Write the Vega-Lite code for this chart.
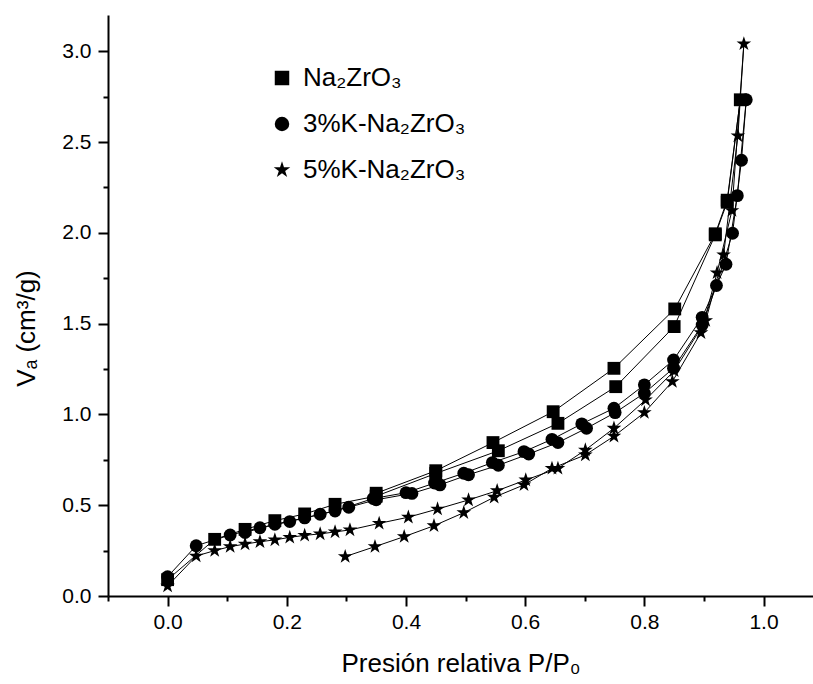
{
  "$schema": "https://vega.github.io/schema/vega-lite/v6.json",
  "width": 705,
  "height": 581,
  "autosize": {"type": "none"},
  "padding": {"left": 108, "top": 15, "right": 0, "bottom": 88},
  "background": "white",
  "config": {
    "view": {"stroke": null},
    "font": "Liberation Sans",
    "axis": {
      "grid": false,
      "domainColor": "black",
      "domainWidth": 2,
      "tickColor": "black",
      "tickWidth": 2,
      "tickOpacity": 1,
      "labelFont": "Liberation Sans",
      "labelFontSize": 21,
      "labelColor": "black",
      "titleFont": "Liberation Sans",
      "titleFontSize": 26,
      "titleFontWeight": "normal",
      "titleColor": "black"
    },
    "legend": {
      "labelFont": "Liberation Sans",
      "labelFontSize": 26,
      "labelColor": "black",
      "labelLimit": 400
    }
  },
  "data": {
    "values": [
      {"s": "Na₂ZrO₃", "o": 1, "x": 0, "y": 0.09},
      {"s": "Na₂ZrO₃", "o": 2, "x": 0.079, "y": 0.312},
      {"s": "Na₂ZrO₃", "o": 3, "x": 0.13, "y": 0.367},
      {"s": "Na₂ZrO₃", "o": 4, "x": 0.18, "y": 0.415},
      {"s": "Na₂ZrO₃", "o": 5, "x": 0.23, "y": 0.452},
      {"s": "Na₂ZrO₃", "o": 6, "x": 0.281, "y": 0.505},
      {"s": "Na₂ZrO₃", "o": 7, "x": 0.35, "y": 0.55},
      {"s": "Na₂ZrO₃", "o": 8, "x": 0.45, "y": 0.675},
      {"s": "Na₂ZrO₃", "o": 9, "x": 0.555, "y": 0.8},
      {"s": "Na₂ZrO₃", "o": 10, "x": 0.655, "y": 0.951},
      {"s": "Na₂ZrO₃", "o": 11, "x": 0.752, "y": 1.153},
      {"s": "Na₂ZrO₃", "o": 12, "x": 0.85, "y": 1.484},
      {"s": "Na₂ZrO₃", "o": 13, "x": 0.919, "y": 1.989},
      {"s": "Na₂ZrO₃", "o": 14, "x": 0.939, "y": 2.169},
      {"s": "Na₂ZrO₃", "o": 15, "x": 0.961, "y": 2.733},
      {"s": "Na₂ZrO₃", "o": 16, "x": 0.939, "y": 2.18},
      {"s": "Na₂ZrO₃", "o": 17, "x": 0.919, "y": 1.995},
      {"s": "Na₂ZrO₃", "o": 18, "x": 0.851, "y": 1.581},
      {"s": "Na₂ZrO₃", "o": 19, "x": 0.749, "y": 1.254},
      {"s": "Na₂ZrO₃", "o": 20, "x": 0.647, "y": 1.015},
      {"s": "Na₂ZrO₃", "o": 21, "x": 0.546, "y": 0.845},
      {"s": "Na₂ZrO₃", "o": 22, "x": 0.45, "y": 0.69},
      {"s": "Na₂ZrO₃", "o": 23, "x": 0.35, "y": 0.566},
      {"s": "3%K-Na₂ZrO₃", "o": 1, "x": 0, "y": 0.106},
      {"s": "3%K-Na₂ZrO₃", "o": 2, "x": 0.048, "y": 0.277},
      {"s": "3%K-Na₂ZrO₃", "o": 3, "x": 0.105, "y": 0.336},
      {"s": "3%K-Na₂ZrO₃", "o": 4, "x": 0.155, "y": 0.376},
      {"s": "3%K-Na₂ZrO₃", "o": 5, "x": 0.205, "y": 0.41},
      {"s": "3%K-Na₂ZrO₃", "o": 6, "x": 0.256, "y": 0.45},
      {"s": "3%K-Na₂ZrO₃", "o": 7, "x": 0.304, "y": 0.489},
      {"s": "3%K-Na₂ZrO₃", "o": 8, "x": 0.35, "y": 0.53},
      {"s": "3%K-Na₂ZrO₃", "o": 9, "x": 0.41, "y": 0.565},
      {"s": "3%K-Na₂ZrO₃", "o": 10, "x": 0.457, "y": 0.612},
      {"s": "3%K-Na₂ZrO₃", "o": 11, "x": 0.505, "y": 0.668},
      {"s": "3%K-Na₂ZrO₃", "o": 12, "x": 0.555, "y": 0.72},
      {"s": "3%K-Na₂ZrO₃", "o": 13, "x": 0.606, "y": 0.782},
      {"s": "3%K-Na₂ZrO₃", "o": 14, "x": 0.655, "y": 0.845},
      {"s": "3%K-Na₂ZrO₃", "o": 15, "x": 0.703, "y": 0.924},
      {"s": "3%K-Na₂ZrO₃", "o": 16, "x": 0.751, "y": 1.01},
      {"s": "3%K-Na₂ZrO₃", "o": 17, "x": 0.8, "y": 1.117},
      {"s": "3%K-Na₂ZrO₃", "o": 18, "x": 0.849, "y": 1.255},
      {"s": "3%K-Na₂ZrO₃", "o": 19, "x": 0.897, "y": 1.493},
      {"s": "3%K-Na₂ZrO₃", "o": 20, "x": 0.921, "y": 1.71},
      {"s": "3%K-Na₂ZrO₃", "o": 21, "x": 0.948, "y": 1.998},
      {"s": "3%K-Na₂ZrO₃", "o": 22, "x": 0.963, "y": 2.4},
      {"s": "3%K-Na₂ZrO₃", "o": 23, "x": 0.971, "y": 2.733},
      {"s": "3%K-Na₂ZrO₃", "o": 24, "x": 0.956, "y": 2.205},
      {"s": "3%K-Na₂ZrO₃", "o": 25, "x": 0.937, "y": 1.827},
      {"s": "3%K-Na₂ZrO₃", "o": 26, "x": 0.897, "y": 1.535},
      {"s": "3%K-Na₂ZrO₃", "o": 27, "x": 0.849, "y": 1.3},
      {"s": "3%K-Na₂ZrO₃", "o": 28, "x": 0.8, "y": 1.163},
      {"s": "3%K-Na₂ZrO₃", "o": 29, "x": 0.749, "y": 1.034},
      {"s": "3%K-Na₂ZrO₃", "o": 30, "x": 0.695, "y": 0.948},
      {"s": "3%K-Na₂ZrO₃", "o": 31, "x": 0.645, "y": 0.863},
      {"s": "3%K-Na₂ZrO₃", "o": 32, "x": 0.598, "y": 0.795},
      {"s": "3%K-Na₂ZrO₃", "o": 33, "x": 0.545, "y": 0.735},
      {"s": "3%K-Na₂ZrO₃", "o": 34, "x": 0.497, "y": 0.676},
      {"s": "3%K-Na₂ZrO₃", "o": 35, "x": 0.448, "y": 0.622},
      {"s": "3%K-Na₂ZrO₃", "o": 36, "x": 0.4, "y": 0.569},
      {"s": "3%K-Na₂ZrO₃", "o": 37, "x": 0.345, "y": 0.537},
      {"s": "3%K-Na₂ZrO₃", "o": 38, "x": 0.281, "y": 0.468},
      {"s": "3%K-Na₂ZrO₃", "o": 39, "x": 0.23, "y": 0.43},
      {"s": "3%K-Na₂ZrO₃", "o": 40, "x": 0.18, "y": 0.395},
      {"s": "3%K-Na₂ZrO₃", "o": 41, "x": 0.13, "y": 0.35},
      {"s": "5%K-Na₂ZrO₃", "o": 1, "x": 0, "y": 0.055},
      {"s": "5%K-Na₂ZrO₃", "o": 2, "x": 0.048, "y": 0.22},
      {"s": "5%K-Na₂ZrO₃", "o": 3, "x": 0.079, "y": 0.25},
      {"s": "5%K-Na₂ZrO₃", "o": 4, "x": 0.105, "y": 0.272},
      {"s": "5%K-Na₂ZrO₃", "o": 5, "x": 0.13, "y": 0.286},
      {"s": "5%K-Na₂ZrO₃", "o": 6, "x": 0.155, "y": 0.299},
      {"s": "5%K-Na₂ZrO₃", "o": 7, "x": 0.18, "y": 0.309},
      {"s": "5%K-Na₂ZrO₃", "o": 8, "x": 0.205, "y": 0.323},
      {"s": "5%K-Na₂ZrO₃", "o": 9, "x": 0.23, "y": 0.334},
      {"s": "5%K-Na₂ZrO₃", "o": 10, "x": 0.256, "y": 0.342},
      {"s": "5%K-Na₂ZrO₃", "o": 11, "x": 0.281, "y": 0.353},
      {"s": "5%K-Na₂ZrO₃", "o": 12, "x": 0.306, "y": 0.364},
      {"s": "5%K-Na₂ZrO₃", "o": 13, "x": 0.355, "y": 0.4},
      {"s": "5%K-Na₂ZrO₃", "o": 14, "x": 0.404, "y": 0.434},
      {"s": "5%K-Na₂ZrO₃", "o": 15, "x": 0.453, "y": 0.479},
      {"s": "5%K-Na₂ZrO₃", "o": 16, "x": 0.505, "y": 0.529},
      {"s": "5%K-Na₂ZrO₃", "o": 17, "x": 0.553, "y": 0.58},
      {"s": "5%K-Na₂ZrO₃", "o": 18, "x": 0.601, "y": 0.639},
      {"s": "5%K-Na₂ZrO₃", "o": 19, "x": 0.655, "y": 0.703},
      {"s": "5%K-Na₂ZrO₃", "o": 20, "x": 0.701, "y": 0.804},
      {"s": "5%K-Na₂ZrO₃", "o": 21, "x": 0.749, "y": 0.924},
      {"s": "5%K-Na₂ZrO₃", "o": 22, "x": 0.802, "y": 1.08},
      {"s": "5%K-Na₂ZrO₃", "o": 23, "x": 0.85, "y": 1.24},
      {"s": "5%K-Na₂ZrO₃", "o": 24, "x": 0.903, "y": 1.517},
      {"s": "5%K-Na₂ZrO₃", "o": 25, "x": 0.933, "y": 1.879},
      {"s": "5%K-Na₂ZrO₃", "o": 26, "x": 0.957, "y": 2.534},
      {"s": "5%K-Na₂ZrO₃", "o": 27, "x": 0.967, "y": 3.041},
      {"s": "5%K-Na₂ZrO₃", "o": 28, "x": 0.947, "y": 2.123},
      {"s": "5%K-Na₂ZrO₃", "o": 29, "x": 0.922, "y": 1.78},
      {"s": "5%K-Na₂ZrO₃", "o": 30, "x": 0.895, "y": 1.45},
      {"s": "5%K-Na₂ZrO₃", "o": 31, "x": 0.847, "y": 1.181},
      {"s": "5%K-Na₂ZrO₃", "o": 32, "x": 0.8, "y": 1.01},
      {"s": "5%K-Na₂ZrO₃", "o": 33, "x": 0.749, "y": 0.88},
      {"s": "5%K-Na₂ZrO₃", "o": 34, "x": 0.701, "y": 0.777},
      {"s": "5%K-Na₂ZrO₃", "o": 35, "x": 0.645, "y": 0.703},
      {"s": "5%K-Na₂ZrO₃", "o": 36, "x": 0.598, "y": 0.612},
      {"s": "5%K-Na₂ZrO₃", "o": 37, "x": 0.548, "y": 0.544},
      {"s": "5%K-Na₂ZrO₃", "o": 38, "x": 0.497, "y": 0.459},
      {"s": "5%K-Na₂ZrO₃", "o": 39, "x": 0.447, "y": 0.387},
      {"s": "5%K-Na₂ZrO₃", "o": 40, "x": 0.397, "y": 0.327},
      {"s": "5%K-Na₂ZrO₃", "o": 41, "x": 0.348, "y": 0.272},
      {"s": "5%K-Na₂ZrO₃", "o": 42, "x": 0.298, "y": 0.217}
    ]
  },
  "layer": [
    {
      "mark": {"type": "line", "color": "black", "strokeWidth": 1},
      "encoding": {
        "x": {
          "field": "x",
          "type": "quantitative",
          "scale": {"domain": [-0.1, 1.083], "nice": false, "zero": false},
          "axis": {
            "orient": "bottom",
            "title": "Presión relativa P/P₀",
            "values": [0, 0.2, 0.4, 0.6, 0.8, 1.0],
            "format": ".1f",
            "ticks": false,
            "labelPadding": 15,
            "titlePadding": 18
          }
        },
        "y": {
          "field": "y",
          "type": "quantitative",
          "scale": {"domain": [0, 3.2], "nice": false},
          "axis": {
            "orient": "left",
            "title": "Vₐ (cm³/g)",
            "titleY": 313,
            "values": [0, 0.5, 1.0, 1.5, 2.0, 2.5, 3.0],
            "format": ".1f",
            "ticks": false,
            "labelPadding": 17,
            "titlePadding": 22
          }
        },
        "detail": {"field": "s", "type": "nominal"},
        "order": {"field": "o", "type": "quantitative"}
      }
    },
    {
      "mark": {"type": "point", "filled": true, "color": "black", "opacity": 1, "size": 165},
      "encoding": {
        "x": {
          "field": "x",
          "type": "quantitative",
          "axis": {
            "orient": "bottom",
            "title": null,
            "values": [-0.1, 0, 0.1, 0.2, 0.3, 0.4, 0.5, 0.6, 0.7, 0.8, 0.9, 1.0],
            "labels": false,
            "domain": false,
            "ticks": true,
            "tickSize": {"condition": {"test": "round(datum.value*10) % 2 == 0", "value": 10}, "value": 5}
          }
        },
        "y": {
          "field": "y",
          "type": "quantitative",
          "axis": {
            "orient": "left",
            "title": null,
            "values": [0, 0.25, 0.5, 0.75, 1.0, 1.25, 1.5, 1.75, 2.0, 2.25, 2.5, 2.75, 3.0],
            "labels": false,
            "domain": false,
            "ticks": true,
            "tickSize": {"condition": {"test": "round(datum.value*4) % 2 == 0", "value": 10}, "value": 5}
          }
        },
        "shape": {
          "field": "s",
          "type": "nominal",
          "scale": {
            "domain": ["Na₂ZrO₃", "3%K-Na₂ZrO₃", "5%K-Na₂ZrO₃"],
            "range": ["square", "circle", "M0,-1.2L0.27,-0.37L1.14,-0.37L0.44,0.14L0.71,0.97L0,0.46L-0.71,0.97L-0.44,0.14L-1.14,-0.37L-0.27,-0.37Z"]
          },
          "legend": {
            "title": null,
            "orient": "none",
            "legendX": 161,
            "legendY": 50,
            "symbolSize": 210,
            "symbolFillColor": "black",
            "symbolStrokeColor": "black",
            "symbolStrokeWidth": 0,
            "symbolOpacity": 1,
            "labelOffset": 8,
            "rowPadding": 20
          }
        }
      }
    }
  ],
  "resolve": {"axis": {"x": "independent", "y": "independent"}}
}
